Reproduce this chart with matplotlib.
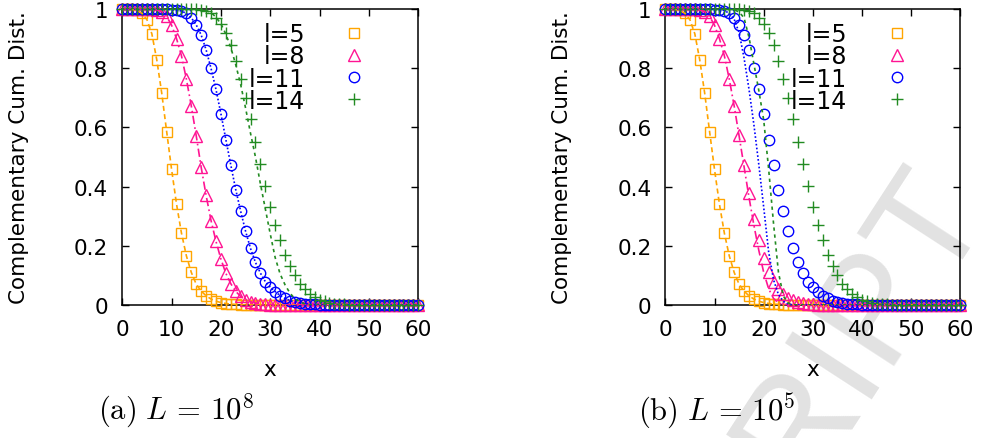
import numpy as np
import matplotlib
matplotlib.use("Agg")
import matplotlib.pyplot as plt
from matplotlib.lines import Line2D

plt.rcParams["font.family"] = ["DejaVu Sans"]
plt.rcParams["mathtext.fontset"] = "cm"

x = np.arange(0, 61)

# measured complementary cumulative distributions (markers)
ccd_l5 = [1.0, 1.0, 0.999, 0.995, 0.985, 0.964, 0.916, 0.828, 0.716, 0.586,
          0.458, 0.341, 0.243, 0.166, 0.110, 0.070, 0.047, 0.031, 0.020, 0.013,
          0.008, 0.005, 0.003, 0.002, 0.001, 0.0, 0.0, 0.0, 0.0, 0.0,
          0.0, 0.0, 0.0, 0.0, 0.0, 0.0, 0.0, 0.0, 0.0, 0.0,
          0.0, 0.0, 0.0, 0.0, 0.0, 0.0, 0.0, 0.0, 0.0, 0.0,
          0.0, 0.0, 0.0, 0.0, 0.0, 0.0, 0.0, 0.0, 0.0, 0.0, 0.0]
ccd_l8_a = [1.0, 1.0, 1.0, 1.0, 1.0, 1.0, 0.999, 0.997, 0.991, 0.975,
            0.945, 0.900, 0.842, 0.763, 0.672, 0.571, 0.465, 0.370, 0.285, 0.215,
            0.155, 0.107, 0.072, 0.046, 0.029, 0.018, 0.011, 0.007, 0.004, 0.002,
            0.001, 0.0, 0.0, 0.0, 0.0, 0.0, 0.0, 0.0, 0.0, 0.0,
            0.0, 0.0, 0.0, 0.0, 0.0, 0.0, 0.0, 0.0, 0.0, 0.0,
            0.0, 0.0, 0.0, 0.0, 0.0, 0.0, 0.0, 0.0, 0.0, 0.0, 0.0]
ccd_l8_b = [1.0, 1.0, 1.0, 1.0, 1.0, 1.0, 0.999, 0.997, 0.991, 0.975,
            0.945, 0.900, 0.842, 0.763, 0.672, 0.573, 0.473, 0.377, 0.290, 0.220,
            0.160, 0.113, 0.078, 0.053, 0.036, 0.025, 0.016, 0.010, 0.006, 0.004,
            0.002, 0.001, 0.0, 0.0, 0.0, 0.0, 0.0, 0.0, 0.0, 0.0,
            0.0, 0.0, 0.0, 0.0, 0.0, 0.0, 0.0, 0.0, 0.0, 0.0,
            0.0, 0.0, 0.0, 0.0, 0.0, 0.0, 0.0, 0.0, 0.0, 0.0, 0.0]
ccd_l11 = [1.0, 1.0, 1.0, 1.0, 1.0, 1.0, 1.0, 1.0, 1.0, 0.999,
           0.998, 0.996, 0.993, 0.985, 0.970, 0.946, 0.912, 0.862, 0.799, 0.728,
           0.646, 0.559, 0.473, 0.390, 0.317, 0.249, 0.191, 0.144, 0.108, 0.079,
           0.060, 0.045, 0.032, 0.022, 0.015, 0.010, 0.007, 0.005, 0.003, 0.002,
           0.001, 0.0, 0.0, 0.0, 0.0, 0.0, 0.0, 0.0, 0.0, 0.0,
           0.0, 0.0, 0.0, 0.0, 0.0, 0.0, 0.0, 0.0, 0.0, 0.0, 0.0]
ccd_l14 = [1.0, 1.0, 1.0, 1.0, 1.0, 1.0, 1.0, 1.0, 1.0, 1.0,
           1.0, 1.0, 1.0, 1.0, 1.0, 0.999, 0.997, 0.993, 0.985, 0.970,
           0.949, 0.920, 0.877, 0.825, 0.764, 0.699, 0.628, 0.550, 0.476, 0.401,
           0.330, 0.270, 0.219, 0.169, 0.133, 0.100, 0.072, 0.054, 0.038, 0.026,
           0.018, 0.012, 0.008, 0.005, 0.003, 0.002, 0.001, 0.0, 0.0, 0.0,
           0.0, 0.0, 0.0, 0.0, 0.0, 0.0, 0.0, 0.0, 0.0, 0.0, 0.0]

# theory curves that differ from the markers
fit_l14_a = [1.0, 1.0, 1.0, 1.0, 1.0, 1.0, 1.0, 1.0, 1.0, 1.0,
             1.0, 1.0, 1.0, 1.0, 1.0, 0.999, 0.998, 0.995, 0.988, 0.972,
             0.950, 0.915, 0.870, 0.812, 0.745, 0.665, 0.580, 0.500, 0.410, 0.325,
             0.240, 0.160, 0.105, 0.068, 0.040, 0.021, 0.010, 0.004, 0.001, 0.0,
             0.0, 0.0, 0.0, 0.0, 0.0, 0.0, 0.0, 0.0, 0.0, 0.0,
             0.0, 0.0, 0.0, 0.0, 0.0, 0.0, 0.0, 0.0, 0.0, 0.0, 0.0]
fit_l8_b = [1.0, 1.0, 1.0, 1.0, 1.0, 1.0, 0.999, 0.997, 0.991, 0.975,
            0.945, 0.900, 0.842, 0.763, 0.672, 0.571, 0.468, 0.365, 0.270, 0.185,
            0.110, 0.055, 0.022, 0.007, 0.002, 0.0, 0.0, 0.0, 0.0, 0.0,
            0.0, 0.0, 0.0, 0.0, 0.0, 0.0, 0.0, 0.0, 0.0, 0.0,
            0.0, 0.0, 0.0, 0.0, 0.0, 0.0, 0.0, 0.0, 0.0, 0.0,
            0.0, 0.0, 0.0, 0.0, 0.0, 0.0, 0.0, 0.0, 0.0, 0.0, 0.0]
fit_l11_b = [1.0, 1.0, 1.0, 1.0, 1.0, 1.0, 1.0, 1.0, 1.0, 1.0,
             1.0, 0.998, 0.995, 0.985, 0.965, 0.920, 0.835, 0.730, 0.610, 0.475,
             0.330, 0.180, 0.085, 0.035, 0.012, 0.003, 0.0, 0.0, 0.0, 0.0,
             0.0, 0.0, 0.0, 0.0, 0.0, 0.0, 0.0, 0.0, 0.0, 0.0,
             0.0, 0.0, 0.0, 0.0, 0.0, 0.0, 0.0, 0.0, 0.0, 0.0,
             0.0, 0.0, 0.0, 0.0, 0.0, 0.0, 0.0, 0.0, 0.0, 0.0, 0.0]
fit_l14_b = [1.0, 1.0, 1.0, 1.0, 1.0, 1.0, 1.0, 1.0, 1.0, 1.0,
             1.0, 1.0, 1.0, 1.0, 0.997, 0.990, 0.970, 0.905, 0.815, 0.725,
             0.625, 0.460, 0.275, 0.110, 0.030, 0.006, 0.001, 0.0, 0.0, 0.0,
             0.0, 0.0, 0.0, 0.0, 0.0, 0.0, 0.0, 0.0, 0.0, 0.0,
             0.0, 0.0, 0.0, 0.0, 0.0, 0.0, 0.0, 0.0, 0.0, 0.0,
             0.0, 0.0, 0.0, 0.0, 0.0, 0.0, 0.0, 0.0, 0.0, 0.0, 0.0]

labels = ["l=5", "l=8", "l=11", "l=14"]
yticks = [0, 0.2, 0.4, 0.6, 0.8, 1]
ytick_labels = ["0", "0.2", "0.4", "0.6", "0.8", "1"]
xticks = [0, 10, 20, 30, 40, 50, 60]

colors = ["#ffa500", "#ff1493", "#0000ff", "#228b22"]
markers = ["s", "^", "o", "+"]
msizes = [7, 8.5, 7.5, 8.5]
dashes = [(0, (3, 2)), (0, (5, 2, 1, 2)), (0, (1, 1.3)), (0, (2, 2.2))]

panels = [
    ([ccd_l5, ccd_l8_a, ccd_l11, ccd_l14],
     [ccd_l5, ccd_l8_a, ccd_l11, fit_l14_a],
     r"$\mathrm{(a)}\ L\,=\,10^8$", 0.0998),
    ([ccd_l5, ccd_l8_b, ccd_l11, ccd_l14],
     [ccd_l5, fit_l8_b, fit_l11_b, fit_l14_b],
     r"$\mathrm{(b)}\ L\,=\,10^5$", 0.6497),
]
boxes = [[0.1245, 0.3030, 0.3014, 0.6743], [0.6775, 0.3030, 0.3006, 0.6743]]

fig = plt.figure(figsize=(9.82, 4.39), dpi=100)

# faint manuscript watermark
fig.text(1.006, 0.535, "RIPT", family="Liberation Sans", fontsize=108,
         color="#e2e2e2", rotation=57, rotation_mode="anchor",
         ha="right", va="baseline", zorder=-5)

for (pts, fits, caption, cap_x), box in zip(panels, boxes):
    ax = fig.add_axes(box)
    ax.set_facecolor("none")
    for ys, c, m, s in zip(pts, colors, markers, msizes):
        ax.plot(x, ys, linestyle="none", marker=m, ms=s, mfc="none", mec=c,
                mew=1.0, clip_on=False, zorder=3)
    for ys, c, d in zip(fits, colors, dashes):
        ax.plot(x, ys, color=c, linestyle=d, lw=1.2, zorder=4)

    ax.set_xlim(0, 60)
    ax.set_ylim(0, 1)
    ax.set_xticks(xticks)
    ax.set_yticks(yticks)
    ax.set_yticklabels(ytick_labels)
    ax.tick_params(direction="in", top=True, right=True, length=5, width=1,
                   labelsize=15.5, pad=10)
    for sp in ax.spines.values():
        sp.set_linewidth(1.1)

    ax.set_xlabel("x", fontsize=15.5)
    ax.xaxis.label.set_va("center")
    ax.xaxis.set_label_coords(0.5, -0.216)
    ax.set_ylabel("Complementary Cum. Dist.", fontsize=15.5)
    ax.yaxis.label.set_va("center")
    ax.yaxis.set_label_coords(-0.35, 0.5)

    # gnuplot-style key: right-aligned text, marker on the right
    handles = [Line2D([], [], linestyle="none", marker=m, ms=s, mfc="none",
                      mec=c, mew=1.0) for c, m, s in zip(colors, markers, msizes)]
    ax.legend(handles, labels, loc="upper right", bbox_to_anchor=(0.8245, 0.955),
              frameon=False, markerfirst=False, fontsize=17, handlelength=1.0,
              handletextpad=1.6, labelspacing=-0.08, borderpad=0, borderaxespad=0)

    fig.text(cap_x, 0.0638, caption, fontsize=22, ha="left", va="center")

fig.savefig("out.png", dpi=100)
